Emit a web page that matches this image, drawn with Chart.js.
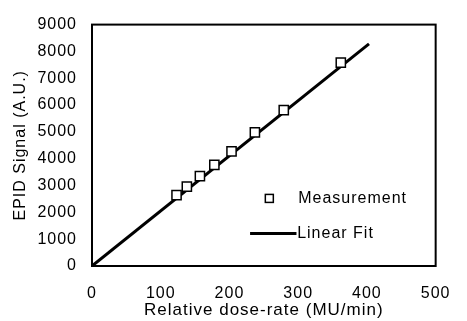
<!DOCTYPE html>
<html>
<head>
<meta charset="utf-8">
<script src="https://cdn.jsdelivr.net/npm/chart.js@4.4.1/dist/chart.umd.min.js"></script>
<style>
  html, body { margin: 0; padding: 0; background: #fff; }
  #wrap { width: 467px; height: 321px; }
</style>
</head>
<body>
<div id="wrap"><canvas id="chart"></canvas></div>
<script>
const doseRate = [123, 138, 157, 178, 203, 237, 279, 362];
const epidSignal = [2640, 2960, 3350, 3770, 4270, 4980, 5810, 7580];

// Linear fit endpoints
const fitDose = [0, 403];
const fitSignal = [0, 8280];

const xTicksMax = 500;
const yTicksMax = 9000;

const fontFamily = '"Liberation Sans", Arial, sans-serif';

// Legend sits inside the plot, drawn by hand like the original
const insideLegend = {
  id: 'insideLegend',
  afterDraw(chart) {
    const { ctx, chartArea: a } = chart;
    const w = a.right - a.left, h = a.bottom - a.top;
    ctx.save();
    ctx.letterSpacing = '1px';
    ctx.font = '16px ' + fontFamily;
    ctx.fillStyle = '#000';
    ctx.textBaseline = 'middle';

    // marker item
    const mx = a.left + w * 0.516, my = a.top + h * 0.72;
    ctx.strokeStyle = '#000';
    ctx.lineWidth = 1.5;
    ctx.fillStyle = '#fff';
    ctx.fillRect(mx - 4, my - 4, 8, 8);
    ctx.strokeRect(mx - 4, my - 4, 8, 8);
    ctx.fillStyle = '#000';
    ctx.fillText(chart.data.datasets[0].label, a.left + w * 0.6, my);

    // line item
    const ly = a.top + h * 0.865;
    ctx.lineWidth = 3;
    ctx.beginPath();
    ctx.moveTo(a.left + w * 0.46, ly);
    ctx.lineTo(a.left + w * 0.595, ly);
    ctx.stroke();
    ctx.fillText(chart.data.datasets[1].label, a.left + w * 0.597, ly);

    // box round the plot
    ctx.lineWidth = 2;
    ctx.strokeRect(a.left, a.top, w, h);
    ctx.restore();
  }
};

const spacing = {
  id: 'spacing',
  beforeDraw(chart) { chart.ctx.letterSpacing = '1px'; }
};

new Chart(document.getElementById('chart'), {
  type: 'scatter',
  data: {
    datasets: [
      {
        label: 'Measurement',
        data: doseRate.map((d, i) => ({ x: d, y: epidSignal[i] })),
        pointStyle: 'rect',
        pointRadius: 6.5,
        pointBorderWidth: 1.5,
        pointBorderColor: '#000',
        pointBackgroundColor: '#fff',
        showLine: false
      },
      {
        label: 'Linear Fit',
        data: fitDose.map((d, i) => ({ x: d, y: fitSignal[i] })),
        showLine: true,
        borderColor: '#000',
        borderWidth: 3,
        pointRadius: 0
      }
    ]
  },
  options: {
    responsive: true,
    maintainAspectRatio: false,
    animation: false,
    layout: { padding: { top: 13, right: 17, left: 0, bottom: 0 } },
    plugins: {
      legend: { display: false },
      tooltip: { enabled: false }
    },
    scales: {
      x: {
        type: 'linear',
        min: 0,
        max: xTicksMax,
        afterFit(scale) { scale.height = 55; },
        grid: { display: false, drawTicks: false },
        border: { color: '#000', width: 2 },
        ticks: {
          stepSize: 100,
          padding: 18,
          color: '#000',
          font: { family: fontFamily, size: 16 },
          callback: (v) => String(v)
        },
        title: {
          display: true,
          text: 'Relative dose-rate (MU/min)',
          color: '#000',
          padding: { top: 0, bottom: 0 },
          font: { family: fontFamily, size: 17 }
        }
      },
      y: {
        type: 'linear',
        min: 0,
        max: yTicksMax,
        afterFit(scale) { scale.width = 92; },
        grid: { display: false, drawTicks: false },
        border: { color: '#000', width: 2 },
        ticks: {
          stepSize: 1000,
          padding: 15,
          color: '#000',
          font: { family: fontFamily, size: 16 },
          callback: (v) => String(v)
        },
        title: {
          display: true,
          text: 'EPID Signal (A.U.)',
          color: '#000',
          padding: { top: 11, bottom: 0 },
          font: { family: fontFamily, size: 16 }
        }
      }
    }
  },
  plugins: [spacing, insideLegend]
});
</script>
</body>
</html>
